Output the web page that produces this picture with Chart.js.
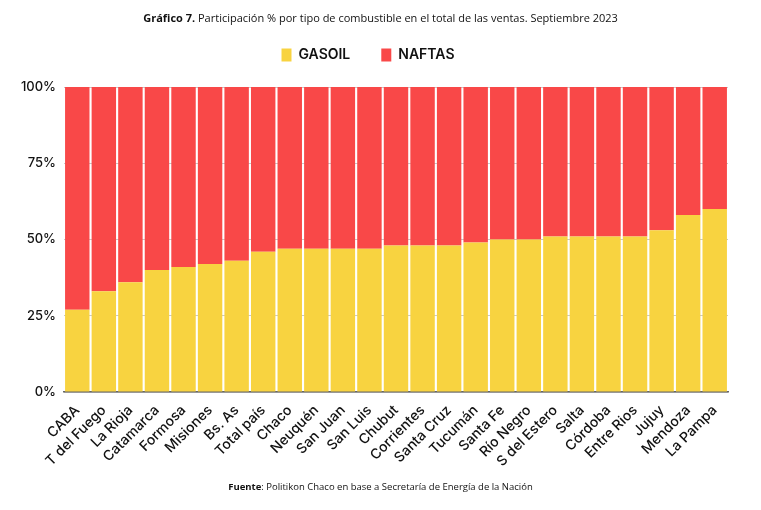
<!DOCTYPE html>
<html>
<head>
<meta charset="utf-8">
<script src="https://cdn.jsdelivr.net/npm/chart.js@4"></script>
<style>
  body { margin: 0; background: #fff; }
  #wrap { position: relative; width: 761px; height: 510px; }
  #title { position: absolute; top: 10px; left: 0; width: 761px; text-align: center;
           font-family: "Open Sans", sans-serif; font-size: 11px; color: #111; }
  #fuente { position: absolute; top: 480px; left: 0; width: 761px; text-align: center;
            font-family: "Open Sans", sans-serif; font-size: 9.5px; color: #111; }
</style>
</head>
<body>
<div id="wrap">
  <canvas id="chart" width="761" height="510"></canvas>
  <div id="title"><b>Gráfico 7.</b> Participación % por tipo de combustible en el total de las ventas. Septiembre 2023</div>
  <div id="fuente"><b>Fuente</b>: Politikon Chaco en base a Secretaría de Energía de la Nación</div>
</div>
<script>
let provincias = ["CABA", "T del Fuego", "La Rioja", "Catamarca", "Formosa", "Misiones", "Bs. As", "Total país",
    "Chaco", "Neuquén", "San Juan", "San Luis", "Chubut", "Corrientes", "Santa Cruz", "Tucumán", "Santa Fe",
    "Río Negro", "S del Estero", "Salta", "Córdoba", "Entre Rios", "Jujuy", "Mendoza", "La Pampa"];
let gasoil = [27, 33, 36, 40, 41, 42, 43, 46, 47, 47, 47, 47, 48, 48, 48, 49, 50, 50, 51, 51, 51, 51, 53, 58, 60];
let naftas = [73, 67, 64, 60, 59, 58, 57, 54, 53, 53, 53, 53, 52, 52, 52, 51, 50, 50, 49, 49, 49, 49, 47, 42, 40];
let yTicks = [0, 25, 50, 75, 100];

let canvas = document.getElementById("chart");

// extra space under the legend
let legendMargin = {
    id: 'legendMargin',
    beforeInit(chart) {
        let fit = chart.legend.fit;
        chart.legend.fit = function () {
            fit.bind(chart.legend)();
            this.height += 15;
        };
    }
};

let chart = new Chart(canvas, {
    type: 'bar',
    data: {
        labels: provincias,
        datasets: [
            {
                label: "GASOIL",
                backgroundColor: 'rgb(248, 211, 64)',
                data: gasoil
            }, {
                label: "NAFTAS",
                backgroundColor: 'rgb(249, 72, 72)',
                data: naftas
            }
        ]
    },
    options: {
        responsive: false,
        maintainAspectRatio: false,
        animation: false,
        layout: { padding: { top: 17, right: 33, left: 8, bottom: 0 } },
        datasets: { bar: { barPercentage: 1, categoryPercentage: 0.92 } },
        plugins: {
            legend: {
                position: 'top',
                labels: {
                    color: '#111',
                    font: { family: "Inter", size: 14, weight: "600" },
                    boxWidth: 10,
                    boxHeight: 13,
                    padding: 31
                }
            },
            tooltip: { enabled: false }
        },
        scales: {
            x: {
                stacked: true,
                grid: { display: false },
                border: { color: '#666', width: 1.5 },
                ticks: { color: '#111', font: { family: "Inter", size: 14, weight: "500" }, autoSkip: false, minRotation: 45, maxRotation: 45, padding: 2 },
                afterFit: (axis) => { axis.height = 118; }
            },
            y: {
                stacked: true,
                min: 0,
                max: 100,
                afterBuildTicks: (axis) => { axis.ticks = yTicks.map(v => ({ value: v })); },
                grid: { color: '#c8c8c8', drawTicks: false },
                border: { display: false },
                ticks: { color: '#111', font: { family: "Inter", size: 13, weight: "500" }, padding: 8, callback: (v) => v + "%" },
                afterFit: (axis) => { axis.width = 56; }
            }
        }
    },
    plugins: [legendMargin]
});
</script>
</body>
</html>
